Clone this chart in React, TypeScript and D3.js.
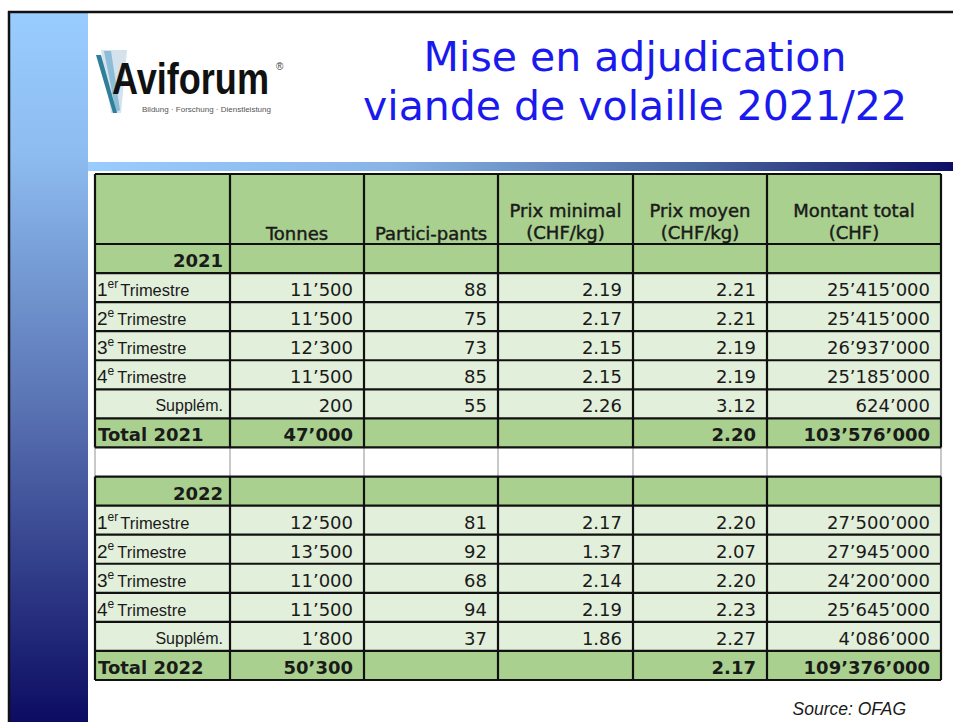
import React from 'react';
import * as d3 from 'd3';

// Données (OFAG)
const years = ['2021', '2022'];
const rowLabels = ['1', '2', '3', '4', 'Supplém.'];
const rowSups = ['er', 'e', 'e', 'e', ''];
const headers = [
  [''],
  ['Tonnes'],
  ['Partici-pants'],
  ['Prix minimal', '(CHF/kg)'],
  ['Prix moyen', '(CHF/kg)'],
  ['Montant total', '(CHF)'],
];

const tonnes2021 = [11500, 11500, 12300, 11500, 200];
const participants2021 = [88, 75, 73, 85, 55];
const prixMin2021 = [2.19, 2.17, 2.15, 2.15, 2.26];
const prixMoyen2021 = [2.21, 2.21, 2.19, 2.19, 3.12];
const montant2021 = [25415000, 25415000, 26937000, 25185000, 624000];
const totals2021 = [47000, 2.2, 103576000];

const tonnes2022 = [12500, 13500, 11000, 11500, 1800];
const participants2022 = [81, 92, 68, 94, 37];
const prixMin2022 = [2.17, 1.37, 2.14, 2.19, 1.86];
const prixMoyen2022 = [2.2, 2.07, 2.2, 2.23, 2.27];
const montant2022 = [27500000, 27945000, 24200000, 25645000, 4086000];
const totals2022 = [50300, 2.17, 109376000];

const W = 953;
const H = 722;

const locale = d3.formatLocale({ decimal: '.', thousands: '\u2019', grouping: [3], currency: ['', ''] });
const fInt = locale.format(',');
const fPrice = locale.format('.2f');

const GREEN = '#a9d08e';
const LIGHT = '#e2efda';
const INK = '#1a1a1a';
const NUM_FONT = '"DejaVu Sans", Verdana, sans-serif';
const CAL_FONT = '"Liberation Sans", Arial, sans-serif';

type Row = { key: string; kind: 'year' | 'data' | 'total' | 'blank'; label?: string; sup?: string; cells: string[] };

function buildRows(): Row[] {
  const rows: Row[] = [];
  const sets = [
    [tonnes2021, participants2021, prixMin2021, prixMoyen2021, montant2021, totals2021],
    [tonnes2022, participants2022, prixMin2022, prixMoyen2022, montant2022, totals2022],
  ] as number[][][];
  years.forEach((y, yi) => {
    const [t, p, mn, my, mt, tot] = sets[yi];
    rows.push({ key: `y${y}`, kind: 'year', label: y, cells: ['', '', '', '', ''] });
    rowLabels.forEach((lab, i) => {
      rows.push({
        key: `${y}-${i}`,
        kind: 'data',
        label: lab,
        sup: rowSups[i],
        cells: [fInt(t[i]), String(p[i]), fPrice(mn[i]), fPrice(my[i]), fInt(mt[i])],
      });
    });
    rows.push({ key: `t${y}`, kind: 'total', label: `Total ${y}`, cells: [fInt(tot[0]), '', '', fPrice(tot[1]), fInt(tot[2])] });
    if (yi === 0) rows.push({ key: 'blank', kind: 'blank', cells: ['', '', '', '', ''] });
  });
  return rows;
}

export default function App() {
  const rows = buildRows();
  const colKeys = headers.map((_, i) => `c${i}`);
  const colEdges = [95, 230, 364, 498, 633, 767, 941];
  const xLeft = d3.scaleOrdinal<string, number>().domain(colKeys).range(colEdges.slice(0, -1));
  const xRight = d3.scaleOrdinal<string, number>().domain(colKeys).range(colEdges.slice(1));
  const y = d3.scaleBand<string>().domain(rows.map(r => r.key)).range([244, 680]).padding(0);
  const headTop = 174;
  const headBottom = 244;
  const bw = y.bandwidth();

  const blankIdx = rows.findIndex(r => r.kind === 'blank');
  const sec1Bottom = y(rows[blankIdx].key)!;
  const sec2Top = sec1Bottom + bw;
  const tableRight = colEdges[colEdges.length - 1];

  return (
    <svg width={W} height={H} style={{ position: 'absolute', left: 0, top: 0, background: '#fff' }}>
      <defs>
        <linearGradient id="side" x1="0" y1="0" x2="0" y2="1">
          <stop offset="0" stopColor="#99ccff" />
          <stop offset="0.2" stopColor="#8dbcf0" />
          <stop offset="0.55" stopColor="#5a74b4" />
          <stop offset="1" stopColor="#0c0c62" />
        </linearGradient>
        <linearGradient id="band" x1="0" y1="0" x2="1" y2="0">
          <stop offset="0" stopColor="#99ccff" />
          <stop offset="0.35" stopColor="#88b4e6" />
          <stop offset="0.7" stopColor="#4a68a0" />
          <stop offset="1" stopColor="#0e0e66" />
        </linearGradient>
      </defs>

      {/* cadre de la diapositive */}
      <rect x={10} y={13} width={78} height={H - 13} fill="url(#side)" />
      <rect x={88} y={162} width={W - 88} height={9} fill="url(#band)" />
      <line x1={8} y1={12} x2={W} y2={12} stroke="#111" strokeWidth={2.5} />
      <line x1={9} y1={11} x2={9} y2={H} stroke="#111" strokeWidth={2.5} />

      {/* logo */}
      <g>
        <polygon points="101,50 127,50 121,113 111,113" fill="#d3e2ec" />
        <polygon points="104,51 111,51 120,110 116,112" fill="#8cbcd6" />
        <polygon points="96,55 101,55 117,113 113,113" fill="#2f7f9a" />
        <text transform="translate(112,94) scale(0.82,1)" fontFamily={CAL_FONT} fontWeight="bold" fontSize={44} fill="#111">Aviforum</text>
        <text x={276} y={70} fontFamily={CAL_FONT} fontSize={10} fill="#444">®</text>
        <text x={142} y={112} fontFamily={CAL_FONT} fontSize={8} fill="#555">Bildung · Forschung · Dienstleistung</text>
      </g>

      {/* titre */}
      <g fontFamily={NUM_FONT} fontSize={41} fill="#1a1aee" textAnchor="middle">
        <text x={635} y={71}>Mise en adjudication</text>
        <text x={635} y={120}>viande de volaille 2021/22</text>
      </g>

      {/* fonds des cellules */}
      <rect x={colEdges[0]} y={headTop} width={tableRight - colEdges[0]} height={headBottom - headTop} fill={GREEN} />
      {rows.map(r => (
        <rect key={`bg-${r.key}`} x={colEdges[0]} y={y(r.key)!} width={tableRight - colEdges[0]} height={bw}
          fill={r.kind === 'data' ? LIGHT : r.kind === 'blank' ? '#fff' : GREEN} />
      ))}

      {/* en-têtes */}
      <g fontFamily={NUM_FONT} fontSize={18} fill={INK} stroke={INK} strokeWidth={0.45} textAnchor="middle">
        {headers.map((h, i) => {
          const cx = (xLeft(colKeys[i]) + xRight(colKeys[i])) / 2;
          if (h.length === 1) return <text key={i} x={cx} y={240}>{h[0]}</text>;
          return (
            <g key={i}>
              <text x={cx} y={217}>{h[0]}</text>
              <text x={cx} y={239}>{h[1]}</text>
            </g>
          );
        })}
      </g>

      {/* contenu */}
      {rows.map(r => {
        const top = y(r.key)!;
        const base = top + 23;
        const c0r = xRight('c0') - 7;
        return (
          <g key={`tx-${r.key}`}>
            {r.kind === 'year' && (
              <text x={c0r} y={base} textAnchor="end" fontFamily={NUM_FONT} fontWeight="bold" fontSize={18} fill={INK}>{r.label}</text>
            )}
            {r.kind === 'total' && (
              <text x={xLeft('c0') + 3} y={base} fontFamily={NUM_FONT} fontWeight="bold" fontSize={18} fill={INK}>{r.label}</text>
            )}
            {r.kind === 'data' && r.sup !== '' && (
              <text x={xLeft('c0') + 2} y={base} fontFamily={CAL_FONT} fontSize={19} fill={INK}>
                {r.label}
                <tspan dy={-8} fontSize={12}>{r.sup}</tspan>
                <tspan dy={8} fontSize={16.5} dx={r.sup === 'er' ? 2 : 3}>Trimestre</tspan>
              </text>
            )}
            {r.kind === 'data' && r.sup === '' && (
              <text x={c0r} y={base - 1} textAnchor="end" fontFamily={CAL_FONT} fontSize={16} fill={INK}>{r.label}</text>
            )}
            {r.cells.map((v, ci) => v === '' ? null : (
              <text key={ci} x={xRight(colKeys[ci + 1]) - 11} y={base} textAnchor="end" fontFamily={NUM_FONT}
                fontSize={18} fontWeight={r.kind === 'total' ? 'bold' : 'normal'} fill={INK}>{v}</text>
            ))}
          </g>
        );
      })}

      {/* bordures */}
      <g stroke="#c8c8c8" strokeWidth={2}>
        {colEdges.map((x, i) => (
          <line key={`gv-${i}`} x1={x} x2={x} y1={sec1Bottom} y2={sec2Top} />
        ))}
      </g>
      <g stroke="#111" strokeWidth={2.2} fill="none">
        {[headTop, headBottom, ...rows.filter(r => r.kind !== 'blank').map(r => y(r.key)!), sec1Bottom, 680].map((yy, i) => (
          <line key={`h-${i}`} x1={colEdges[0]} x2={tableRight} y1={yy} y2={yy} />
        ))}
        {colEdges.map((x, i) => (
          <g key={`v-${i}`}>
            <line x1={x} x2={x} y1={headTop} y2={sec1Bottom} />
            <line x1={x} x2={x} y1={sec2Top} y2={680} />
          </g>
        ))}
      </g>

      <text x={906} y={715} textAnchor="end" fontFamily={CAL_FONT} fontStyle="italic" fontSize={17.5} fill={INK}>Source: OFAG</text>
    </svg>
  );
}
